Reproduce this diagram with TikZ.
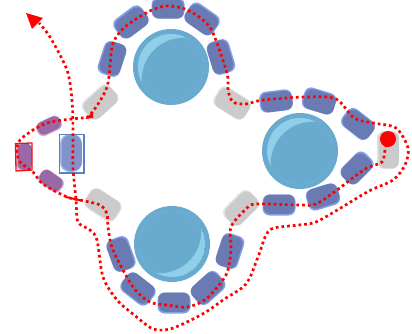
\documentclass[tikz,border=0pt]{standalone}
\definecolor{chairbase}{HTML}{86A0E6}
\definecolor{chairdark}{HTML}{6A7BB3}
\definecolor{graybase}{HTML}{E2E2E2}
\definecolor{graydark}{HTML}{CBCBCB}
\definecolor{purpbase}{HTML}{D4B6DC}
\definecolor{purpdark}{HTML}{9A68A4}
\definecolor{bluebase}{HTML}{A4B6E8}
\definecolor{bluedark}{HTML}{8193CB}
\definecolor{tabledark}{HTML}{69ABCF}
\definecolor{tablelight}{HTML}{91CEE9}
\definecolor{routered}{HTML}{FF0000}
\definecolor{framered}{HTML}{EE1111}
\definecolor{frameblue}{HTML}{5B80C4}
\newcommand{\seatradius}{7}
% #1 x, #2 y, #3 clockwise angle, #4 length, #5 width, #6 base, #7 dark, #8 dx, #9 dy
\newcommand{\seatshape}[9]{%
  \begin{scope}[shift={(#1,#2)}]
    \fill[#6,rotate=-#3,rounded corners=\seatradius] (-#4/2,-#5/2) rectangle (#4/2,#5/2);
    \begin{scope}[shift={(#8,#9)}]
      \fill[#7,rotate=-#3,rounded corners=\seatradius] (-#4/2+0.8,-#5/2+0.8) rectangle (#4/2-0.8,#5/2-0.8);
    \end{scope}
  \end{scope}}
% #1 x, #2 y, #3 highlight direction sign
\newcommand{\roundtable}[3]{%
  \begin{scope}[shift={(#1,#2)}]
    \fill[tabledark] (0,0) circle (38);
    \begin{scope}
      \clip (0,0) circle (33);
      \fill[tablelight] (0,0) circle (33);
      \fill[tabledark] (#3*12.7,#3*12.7) circle (42);
    \end{scope}
  \end{scope}}
\begin{document}
\begin{tikzpicture}[x=1pt,y=-1pt,
  route/.style={draw=routered,line width=2.7pt,dash pattern=on 2.7pt off 3pt},
  seatframe/.style={line width=1.3pt}]
\useasboundingbox (0,0) rectangle (412,334);
\fill[white] (0,0) rectangle (412,334);
% tables
\roundtable{171}{67}{1}
\roundtable{300}{151}{1}
\roundtable{172}{244}{-1}
% top table seats
\seatshape{112}{59}{-72}{34}{23}{chairbase}{chairdark}{0.8}{-0.5}
\seatshape{131}{22}{-37}{34}{23}{chairbase}{chairdark}{0.8}{0.8}
\seatshape{168}{8}{0}{33}{21}{chairbase}{chairdark}{0}{1}
\seatshape{202}{19}{35}{34}{23}{chairbase}{chairdark}{-0.5}{0.6}
\seatshape{221}{57}{73}{34}{23}{chairbase}{chairdark}{-0.8}{0}
% right table seats
\seatshape{276}{101}{-7}{33}{21}{chairbase}{chairdark}{0.7}{0.5}
\seatshape{319}{101}{17}{33}{22}{chairbase}{chairdark}{0.5}{0.7}
\seatshape{358}{124}{38}{33}{22}{chairbase}{chairdark}{0.5}{0.5}
\seatshape{357}{168}{-45}{33}{22}{chairbase}{chairdark}{-0.6}{0.7}
\seatshape{323}{197}{-17}{33}{22}{chairbase}{chairdark}{0}{-0.8}
\seatshape{279}{205}{0}{33}{21}{chairbase}{chairdark}{0}{-0.8}
% bottom table seats
\seatshape{230}{251}{-72}{34}{23}{chairbase}{chairdark}{-0.8}{0.3}
\seatshape{208}{288}{-42}{34}{23}{chairbase}{chairdark}{-0.7}{0}
\seatshape{174}{303}{0}{33}{21}{chairbase}{chairdark}{0}{-0.8}
\seatshape{138}{289}{38}{34}{23}{chairbase}{chairdark}{0}{-0.8}
\seatshape{121}{254}{70}{34}{23}{chairbase}{chairdark}{-0.6}{0.5}
% gray seats
\seatshape{100}{102}{-42}{36}{23}{graybase}{graydark}{0.7}{0.4}
\seatshape{232}{103}{32}{36}{23}{graybase}{graydark}{0.5}{0.5}
\seatshape{388}{150}{90}{38}{22}{graybase}{graydark}{0.7}{0}
\seatshape{241}{208}{-45}{36}{23}{graybase}{graydark}{0.7}{0.4}
\seatshape{103}{205}{33}{36}{23}{graybase}{graydark}{0}{-0.7}
% purple and blue seats
\renewcommand{\seatradius}{6}
\seatshape{49}{126}{-25}{26}{15}{purpbase}{purpdark}{0}{-0.5}
\seatshape{51}{181}{35}{26}{16}{purpbase}{purpdark}{0}{-0.5}
\seatshape{24}{157}{90}{28}{16}{purpbase}{purpdark}{0.7}{-0.4}
\renewcommand{\seatradius}{9.5}
\seatshape{71}{153}{90}{38}{22}{bluebase}{bluedark}{0.7}{0}
% frames
\draw[framered,seatframe] (15.5,143.5) -- (32,143) -- (32,170) -- (16,171) -- cycle;
\draw[frameblue,seatframe] (59.5,134.5) rectangle (84,173);
% route
\draw[route] plot[smooth,tension=0.5] coordinates {
 (388,139) (385,150) (382,162) (367,168) (350,180) (337,190) (316,204) (299,205)
 (256,204) (246,209) (231,227) (231,250) (226,275) (206,299) (187,307) (167,305)
 (150,302) (133,287) (113,250) (108,227) (107,214) (100,205) (80,200) (67,197)
 (43,184) (33,172) (20,162) (17,150) (20,140) (33,130) (47,123) (63,120) (80,118)
 (90,115) (107,87) (112,47) (120,32) (133,21) (152,10) (167,6) (185,9) (203,20)
 (213,33) (227,73) (228,90) (233,102) (246,104) (263,100) (306,97) (336,99)
 (354,118) (373,123) (396,128) (408,148) (405,165) (393,180) (369,191) (339,209)
 (316,222) (299,225) (274,228) (266,235) (258,257) (246,284) (223,300) (206,312)
 (187,322) (170,329) (153,329) (133,314) (117,300) (103,277) (97,240) (90,230)
 (78,222) (76,200) (73,167) (73,133) (72,100) (67,70) (50,37) (39,23)};
\fill[routered] (26,13) -- (43,18) -- (32,29) -- cycle;
\fill[routered] (85,119) -- (93,112) -- (93,118) -- cycle;
\draw[routered,line width=2pt] (66,197) -- (81,200.5);
\fill[routered] (388,139) circle (8);
\end{tikzpicture}
\end{document}
